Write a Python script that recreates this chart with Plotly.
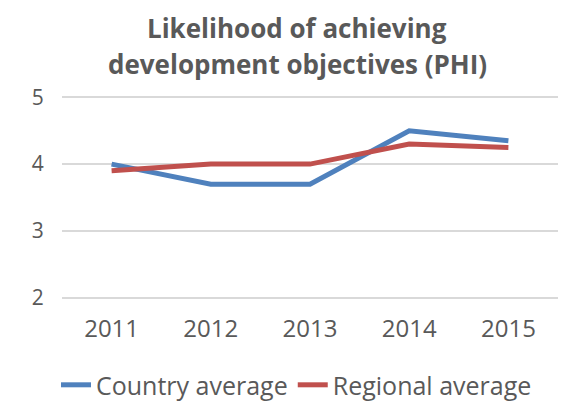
import plotly.graph_objects as go

years = ["2011", "2012", "2013", "2014", "2015"]
country_avg = [4.0, 3.7, 3.7, 4.5, 4.35]
regional_avg = [3.9, 4.0, 4.0, 4.3, 4.25]
title_lines = ["Likelihood of achieving", "development objectives (PHI)"]

fig = go.Figure()
fig.add_trace(go.Scatter(x=years, y=country_avg, mode="lines", name="Country average",
                         line=dict(color="#4F81BD", width=5)))
fig.add_trace(go.Scatter(x=years, y=regional_avg, mode="lines", name="Regional average",
                         line=dict(color="#C0504D", width=5)))

font_family = "Open Sans, sans-serif"
fig.add_annotation(text="<b>" + title_lines[0] + "</b>", xref="paper", yref="paper",
                   x=0.474, y=1.335, yanchor="middle", showarrow=False,
                   font=dict(size=26, color="#595959", family=font_family))
fig.add_annotation(text="<b>" + title_lines[1] + "</b>", xref="paper", yref="paper",
                   x=0.474, y=1.16, yanchor="middle", showarrow=False,
                   font=dict(size=26, color="#595959", family=font_family))

fig.update_layout(
    width=577, height=399,
    margin=dict(l=54, r=27, t=88, b=108),
    paper_bgcolor="white", plot_bgcolor="white",
    font=dict(family=font_family, color="#595959", size=20),
    showlegend=True,
    legend=dict(orientation="h", x=0.5, xanchor="center", xref="container",
                y=0.055, yanchor="middle", yref="container",
                font=dict(size=25, color="#595959"), tracegroupgap=0),
)
fig.update_xaxes(type="category", range=[-0.5, 4.5],
                 showgrid=False, showline=False, zeroline=False,
                 ticks="outside", ticklen=8, tickcolor="rgba(0,0,0,0)",
                 tickfont=dict(size=24, color="#595959"))
fig.update_yaxes(range=[1.98, 5.02], dtick=1, showgrid=True, gridcolor="#D9D9D9", gridwidth=1.5,
                 zeroline=False, showline=False,
                 ticks="outside", ticklen=13, tickcolor="rgba(0,0,0,0)",
                 tickfont=dict(size=21, color="#595959"))

fig.write_html("out.html")
